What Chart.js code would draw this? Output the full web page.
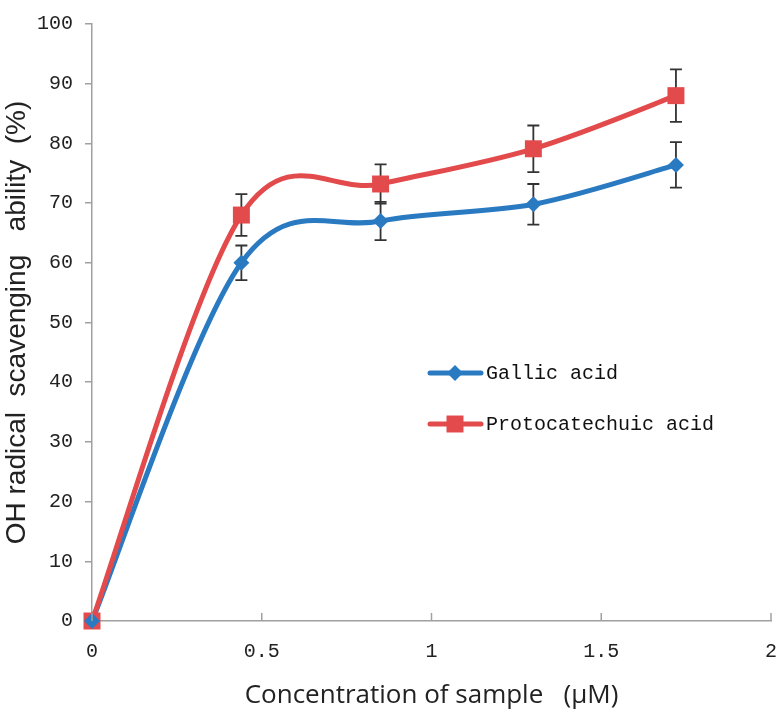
<!DOCTYPE html>
<html>
<head>
<meta charset="utf-8">
<script src="https://cdn.jsdelivr.net/npm/chart.js@4.4.0/dist/chart.umd.min.js"></script>
<style>
  html, body { margin: 0; padding: 0; background: #fff; }
  canvas { display: block; }
</style>
</head>
<body>
<canvas id="chart" width="783" height="711"></canvas>
<script>
  const concentration = [0, 0.44, 0.85, 1.30, 1.72];
  const gallic = [0, 60.0, 67.0, 69.8, 76.4];
  const gallicErr = [0, 2.9, 3.2, 3.4, 3.8];
  const protocatechuic = [0, 68.0, 73.2, 79.1, 88.0];
  const protocatechuicErr = [0, 3.5, 3.3, 3.9, 4.4];
  const xTicks = [0, 0.5, 1, 1.5, 2];
  const yTicks = [0, 10, 20, 30, 40, 50, 60, 70, 80, 90, 100];

  const blue = 'rgb(42,122,194)';
  const red = 'rgb(226,74,76)';
  const axisGray = '#a0a0a0';
  const tickFont = { family: 'Liberation Mono', size: 20 };

  const toPoints = (xs, ys) => xs.map((x, i) => ({ x: x, y: ys[i] }));

  // error bars + Excel-style smoothed lines (uniform Catmull-Rom through the
  // point elements), drawn before Chart.js paints the markers on top
  const smoothLines = {
    id: 'smoothLines',
    beforeDatasetsDraw(chart) {
      const { ctx, scales: { x, y } } = chart;
      ctx.save();

      ctx.strokeStyle = '#333';
      ctx.lineWidth = 1.8;
      chart.data.datasets.forEach(ds => {
        ds.data.forEach((p, i) => {
          const e = ds.errors[i];
          if (!e) return;
          const px = x.getPixelForValue(p.x);
          const top = y.getPixelForValue(p.y + e);
          const bot = y.getPixelForValue(p.y - e);
          ctx.beginPath();
          ctx.moveTo(px, top); ctx.lineTo(px, bot);
          ctx.moveTo(px - 6, top); ctx.lineTo(px + 6, top);
          ctx.moveTo(px - 6, bot); ctx.lineTo(px + 6, bot);
          ctx.stroke();
        });
      });

      chart.data.datasets.forEach((ds, di) => {
        const pts = chart.getDatasetMeta(di).data;
        const n = pts.length;
        const at = i => pts[Math.max(0, Math.min(n - 1, i))];
        ctx.strokeStyle = ds.borderColor;
        ctx.lineWidth = 5;
        ctx.lineJoin = 'round';
        ctx.lineCap = 'round';
        ctx.beginPath();
        ctx.moveTo(pts[0].x, pts[0].y);
        for (let i = 0; i < n - 1; i++) {
          const p0 = at(i - 1), p1 = at(i), p2 = at(i + 1), p3 = at(i + 2);
          ctx.bezierCurveTo(
            p1.x + (p2.x - p0.x) / 6, p1.y + (p2.y - p0.y) / 6,
            p2.x - (p3.x - p1.x) / 6, p2.y - (p3.y - p1.y) / 6,
            p2.x, p2.y
          );
        }
        ctx.stroke();
      });
      ctx.restore();
    }
  };

  // x tick marks point into the plot, like the original
  const innerTicks = {
    id: 'innerTicks',
    afterDraw(chart) {
      const { ctx, scales: { x }, chartArea } = chart;
      ctx.save();
      ctx.strokeStyle = axisGray;
      ctx.lineWidth = 1.5;
      xTicks.forEach(v => {
        const px = x.getPixelForValue(v);
        ctx.beginPath();
        ctx.moveTo(px, chartArea.bottom);
        ctx.lineTo(px, chartArea.bottom - 8);
        ctx.stroke();
      });
      ctx.restore();
    }
  };

  // legend inside the plot area
  const insideLegend = {
    id: 'insideLegend',
    afterDraw(chart) {
      const { ctx } = chart;
      const rows = [373, 424];
      ctx.save();
      chart.data.datasets.forEach((ds, i) => {
        const yy = rows[i];
        ctx.strokeStyle = ds.borderColor;
        ctx.lineWidth = 5;
        ctx.lineCap = 'round';
        ctx.beginPath();
        ctx.moveTo(430, yy); ctx.lineTo(481, yy);
        ctx.stroke();
        ctx.fillStyle = ds.backgroundColor;
        Chart.helpers.drawPoint(ctx, {
          pointStyle: ds.pointStyle,
          radius: ds.pointRadius,
          borderWidth: 0
        }, 455, yy);
        ctx.fillStyle = '#111';
        ctx.font = '20px "Liberation Mono"';
        ctx.textBaseline = 'middle';
        ctx.fillText(ds.label, 486, yy + 1);
      });
      ctx.restore();
    }
  };

  new Chart(document.getElementById('chart'), {
    type: 'line',
    data: {
      datasets: [
        {
          label: 'Gallic acid',
          data: toPoints(concentration, gallic),
          errors: gallicErr,
          borderColor: blue,
          backgroundColor: blue,
          showLine: false,
          pointStyle: 'rectRot',
          pointRadius: 8,
          pointBorderWidth: 0,
          clip: false
        },
        {
          label: 'Protocatechuic acid',
          data: toPoints(concentration, protocatechuic),
          errors: protocatechuicErr,
          borderColor: red,
          backgroundColor: red,
          showLine: false,
          pointStyle: 'rect',
          pointRadius: 12,
          pointBorderWidth: 0,
          clip: false
        }
      ]
    },
    options: {
      responsive: false,
      animation: false,
      layout: { padding: { top: 17, right: 6 } },
      plugins: {
        legend: { display: false },
        tooltip: { enabled: false }
      },
      scales: {
        x: {
          type: 'linear',
          min: 0,
          max: 2,
          afterBuildTicks: s => { s.ticks = xTicks.map(v => ({ value: v })); },
          afterFit: s => { s.height = 90; s.paddingLeft = 0; s.paddingRight = 0; },
          grid: { display: false },
          border: { color: axisGray, width: 1.5 },
          ticks: {
            font: tickFont,
            color: '#222',
            padding: 11,
            maxRotation: 0,
            callback: v => String(v)
          },
          title: {
            display: true,
            text: 'Concentration of sample   (μM)',
            font: { family: 'Open Sans', size: 26 },
            color: '#222',
            padding: { top: 4, bottom: 0 }
          }
        },
        y: {
          min: 0,
          max: 100,
          afterBuildTicks: s => { s.ticks = yTicks.map(v => ({ value: v })); },
          afterFit: s => { s.width = 92; },
          grid: { drawOnChartArea: false, tickLength: 7, color: axisGray, lineWidth: 1.5 },
          border: { color: axisGray, width: 1.5 },
          ticks: {
            font: tickFont,
            color: '#222',
            padding: 12
          },
          title: {
            display: true,
            text: 'OH radical  scavenging   ability  (%)',
            font: { family: 'Liberation Sans', size: 28 },
            color: '#222',
            padding: { top: 0, bottom: 2 }
          }
        }
      }
    },
    plugins: [smoothLines, innerTicks, insideLegend]
  });
</script>
</body>
</html>
